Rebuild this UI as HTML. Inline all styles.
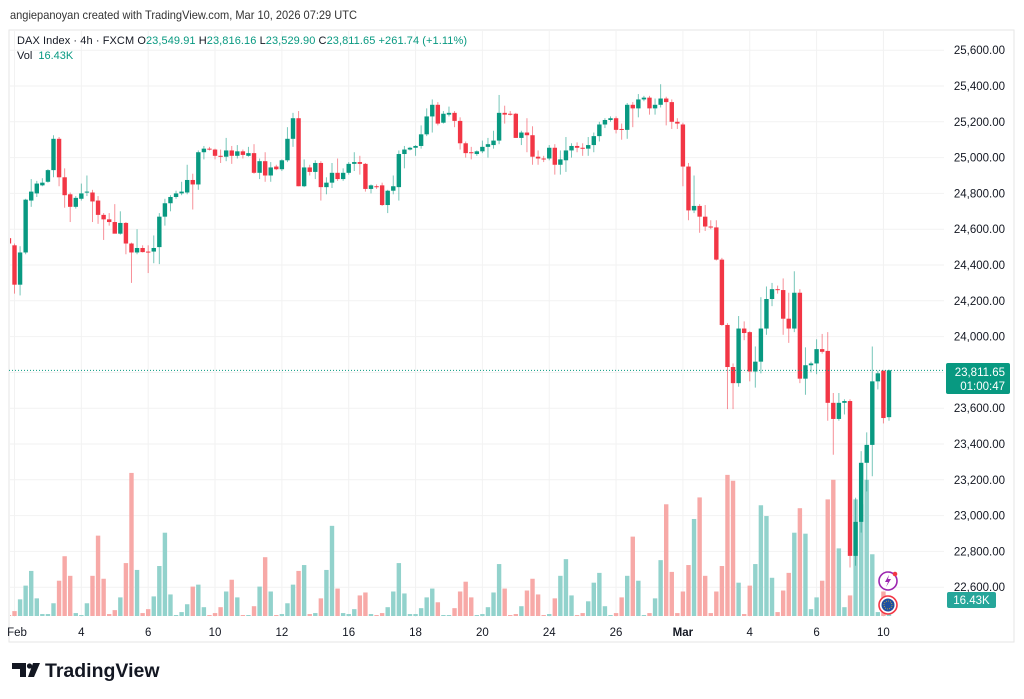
<!DOCTYPE html>
<html><head><meta charset="utf-8">
<style>
html,body{margin:0;padding:0;background:#fff;width:1024px;height:699px;overflow:hidden}
body{font-family:"Liberation Sans",sans-serif}
svg text{font-family:"Liberation Sans",sans-serif}
</style></head>
<body>
<svg id="chart" width="1024" height="699" viewBox="0 0 1024 699" xmlns="http://www.w3.org/2000/svg">
<defs><clipPath id="plotclip"><rect x="10" y="30" width="934" height="587"/></clipPath></defs>
<text x="10" y="19" font-size="12" fill="#333" textLength="347" lengthAdjust="spacingAndGlyphs">angiepanoyan created with TradingView.com, Mar 10, 2026 07:29 UTC</text>
<rect x="9" y="30" width="1005" height="612" fill="none" stroke="#e6e6e6"/>
<g id="grid"></g>
<g id="vols" clip-path="url(#plotclip)"></g>
<g id="candles" clip-path="url(#plotclip)"></g>
<g id="yaxis"></g>
<g id="xaxis"></g>
<g font-size="11">
<text x="17" y="44" fill="#131722" textLength="450" lengthAdjust="spacing">DAX Index · 4h · FXCM  <tspan fill="#131722">O</tspan><tspan fill="#089981">23,549.91</tspan>  <tspan fill="#131722">H</tspan><tspan fill="#089981">23,816.16</tspan>  <tspan fill="#131722">L</tspan><tspan fill="#089981">23,529.90</tspan>  <tspan fill="#131722">C</tspan><tspan fill="#089981">23,811.65</tspan>  <tspan fill="#089981">+261.74 (+1.11%)</tspan></text>
<text x="17" y="59" fill="#131722">Vol <tspan fill="#089981" dx="3">16.43K</tspan></text>
</g>
<line id="lastline" x1="9" x2="944" stroke="#089981" stroke-width="1" stroke-dasharray="1,2"/>
<g>
<rect id="lastbox" x="946" y="363" width="64" height="31" rx="2" fill="#089981"/>
<text id="lasttxt" x="1005" y="376" font-size="11.5" fill="#fff" text-anchor="end">23,811.65</text>
<text x="1005" y="390" font-size="11.5" fill="#fff" text-anchor="end">01:00:47</text>
</g>
<g>
<rect x="947" y="592" width="49" height="16" rx="2" fill="#26a69a"/>
<text x="971.5" y="604" font-size="11.5" fill="#fff" text-anchor="middle">16.43K</text>
</g>
<g>
<circle cx="888" cy="581" r="9" fill="#fff" stroke="#9c27b0" stroke-width="1.6"/>
<path d="M889 575 L885 582 L888 582 L886 587 L891 579 L888 579 Z" fill="#9c27b0"/>
<circle cx="895" cy="574" r="2.3" fill="#f23645"/>
</g>
<g>
<circle cx="888" cy="605" r="9" fill="#fff" stroke="#f23645" stroke-width="1.6"/>
<circle cx="888" cy="605" r="6.5" fill="#1f4fa0"/>
<circle cx="888" cy="605" r="4" fill="none" stroke="#f5c518" stroke-width="0.8" stroke-dasharray="0.8,1.3"/>
</g>
<g>
<path d="M12 663 H26 V677 H20 V669 H12 Z" fill="#131722"/>
<circle cx="29.5" cy="666" r="2.6" fill="#131722"/>
<path d="M33 663 H40 L34 677 H28 Z" fill="#131722"/>
<text x="45" y="677" font-size="19.5" font-weight="bold" fill="#131722">TradingView</text>
</g>
</svg>
<script>
const opens=[24550,24510,24290,24470,24760,24800,24845,24865,24930,25105,24890,24795,24725,24770,24805,24805,24760,24680,24655,24640,24575,24635,24520,24470,24495,24475,24475,24500,24670,24745,24780,24800,24805,24875,24850,25030,25050,25045,25010,25005,25040,25010,25035,25010,25025,24915,24980,24900,24950,24935,24985,25105,25220,24840,24945,24920,24970,24835,24860,24915,24880,24915,24965,24975,24965,24825,24840,24845,24735,24815,24835,25020,25045,25055,25065,25130,25230,25295,25195,25240,25250,25205,25080,25030,25020,25035,25060,25070,25095,25250,25245,25245,25110,25140,25125,25005,24995,24995,25055,24960,24985,25040,25065,25055,25050,25070,25120,25185,25210,25220,25160,25155,25295,25275,25325,25335,25275,25295,25330,25310,25200,25185,24950,24705,24730,24670,24615,24610,24430,24065,23830,23740,24045,24025,23805,23860,24045,24210,24265,24260,24100,24045,24245,23765,23840,23850,23930,23920,23630,23540,23630,23640,22775,22965,23295,23395,23750,23810,23549.91];
const highs=[24560,24520,24505,24770,24880,24870,24885,24935,25125,25115,24940,24805,24785,24855,24900,24820,24785,24690,24690,24740,24700,24640,24525,24600,24510,24510,24565,24690,24770,24790,24815,24865,24960,24910,25040,25065,25060,25050,25045,25110,25065,25070,25045,25060,25075,24995,25030,24975,24960,24990,25170,25250,25260,24990,24960,24985,24980,24890,24970,24995,24940,24975,25030,25010,24970,24850,24850,24860,24820,24900,25040,25065,25060,25070,25180,25275,25325,25310,25260,25285,25260,25225,25090,25060,25040,25095,25110,25150,25350,25290,25260,25250,25150,25220,25175,25040,25010,25070,25075,25040,25115,25080,25085,25080,25115,25140,25200,25220,25230,25230,25190,25305,25310,25355,25345,25345,25330,25410,25340,25325,25220,25195,24970,24900,24740,24735,24650,24650,24440,24075,23850,24115,24085,24030,23945,24220,24280,24300,24285,24325,24245,24365,24265,23940,23860,23985,24015,24025,23685,23685,23650,23650,23100,23360,23465,23945,23810,23810,23816.16];
const lows=[24500,24240,24230,24460,24725,24780,24840,24860,24890,24840,24720,24640,24715,24760,24785,24640,24630,24540,24620,24590,24570,24460,24300,24460,24470,24355,24410,24405,24620,24700,24770,24790,24795,24710,24820,24990,25040,24990,24970,24980,24965,24995,24995,25005,24910,24880,24865,24865,24930,24925,24975,25060,24840,24835,24900,24880,24760,24795,24830,24870,24870,24905,24925,24905,24810,24800,24825,24730,24690,24795,24760,24940,25040,25010,25050,25120,25140,25180,25190,25230,25170,25045,25000,24990,25010,25025,25000,25050,25075,25190,25235,25110,25070,25030,24960,24960,24975,24985,24905,24905,24920,25000,25030,25010,25010,25030,25090,25165,25200,25135,25100,25105,25170,25225,25315,25240,25240,25280,25180,25160,25160,24840,24650,24690,24580,24590,24600,24425,24060,23595,23595,23720,23980,23750,23715,23795,24010,24170,24240,24010,23965,24025,23740,23675,23800,23790,23905,23530,23340,23530,23565,22710,22720,22905,23135,23220,23705,23515,23529.9];
const closes=[24520,24290,24470,24765,24810,24855,24860,24930,25105,24890,24790,24725,24775,24800,24810,24755,24680,24655,24640,24575,24635,24520,24470,24495,24472,24470,24495,24670,24745,24780,24800,24810,24875,24850,25030,25050,25045,25010,25008,25040,25010,25035,25015,25025,24915,24980,24900,24945,24935,24985,25105,25220,24840,24945,24920,24970,24835,24860,24915,24880,24915,24965,24975,24965,24825,24845,24835,24735,24815,24840,25020,25045,25055,25065,25130,25230,25295,25190,25245,25250,25205,25080,25025,25025,25035,25060,25075,25095,25250,25240,25240,25110,25140,25125,25005,24995,24990,25055,24960,24990,25040,25065,25055,25050,25070,25120,25185,25210,25220,25155,25155,25295,25275,25325,25335,25275,25295,25330,25310,25200,25190,24950,24705,24730,24670,24615,24610,24430,24065,23830,23740,24045,24020,23805,23860,24045,24210,24265,24260,24100,24045,24245,23765,23840,23850,23930,23915,23630,23540,23630,23640,22775,22965,23295,23395,23750,23795,23545,23811.65];
const volumes=[1,5,17,31,46,18,2,2,13,36,61,41,3,1,13,41,82,38,2,6,19,54,146,47,3,7,20,51,85,22,1,4,12,30,32,9,1,3,9,25,37,19,1,1,10,30,60,25,1,2,13,32,46,52,2,3,18,47,92,28,3,2,7,21,24,2,1,3,9,25,54,23,2,2,8,19,28,14,1,1,8,25,35,19,1,2,9,24,53,28,1,2,10,26,38,22,1,2,18,41,58,21,1,3,15,34,44,10,1,3,19,41,81,36,1,3,18,57,114,45,3,25,52,99,121,41,3,25,51,144,138,34,2,31,53,113,102,39,4,26,44,85,110,84,7,19,36,119,139,69,9,21,119,114,139,63,4,25,16.43];
const priceTicks=[25600,25400,25200,25000,24800,24600,24400,24200,24000,23800,23600,23400,23200,23000,22800,22600];
const timeLabels=["Feb","4","6","10","12","16","18","20","24","26","Mar","4","6","10"];
const timeLabelBars=[1,13,25,37,49,61,73,85,97,109,121,133,145,157];

const NS="http://www.w3.org/2000/svg";
const N=opens.length;
const step=5.57;
function xOf(i){return 889-(N-1-i)*step;}
function yOf(p){return 265+(24400-p)*0.179;}
function vY(v){return 616-v*0.98;}
function mk(tag,attrs,parent){const e=document.createElementNS(NS,tag);for(const k in attrs)e.setAttribute(k,attrs[k]);parent.appendChild(e);return e;}

const grid=document.getElementById('grid');
const yaxis=document.getElementById('yaxis');
priceTicks.forEach(p=>{
  const y=yOf(p);
  const l=mk('line',{x1:9,x2:944,y1:y,y2:y,stroke:'#f2f2f2'},grid);
  
  
  const t=mk('text',{x:1005,y:y+4,'font-size':11.5,fill:'#131722','text-anchor':'end'},yaxis);
  
  
  t.textContent=p.toLocaleString('en-US')+'.00';
});
const xaxis=document.getElementById('xaxis');
timeLabels.forEach((lab,k)=>{
  const x=xOf(timeLabelBars[k]);
  const l=mk('line',{x1:x,x2:x,y1:30,y2:617,stroke:'#f2f2f2'},grid);
  
  
  const t=mk('text',{x:Math.max(x,17),y:636,'font-size':11.5,fill:'#131722','text-anchor':'middle','font-weight':lab==='Mar'?'bold':'normal'},xaxis);
  
  
  t.textContent=lab;
});
const vg=document.getElementById('vols');
const cg=document.getElementById('candles');
for(let i=0;i<N;i++){
  const up=closes[i]>=opens[i];
  const x=xOf(i);
  const vb=mk('rect',{x:x-2.2,y:vY(volumes[i]),width:4.4,height:616-vY(volumes[i]),fill:up?'#92d2cc':'#f7a9a7'},vg);
  
  
  const col=up?'#089981':'#f23645';
  const w=mk('line',{x1:x,x2:x,y1:yOf(highs[i]),y2:yOf(lows[i]),stroke:col,'stroke-width':1,opacity:0.55},cg);
  
  
  const top=yOf(Math.max(opens[i],closes[i])),bot=yOf(Math.min(opens[i],closes[i]));
  const b=mk('rect',{x:x-2.2,y:top,width:4.4,height:Math.max(1,bot-top),fill:col},cg);
  
  
}
const ly=yOf(closes[N-1]);
const ll=document.getElementById('lastline');
ll.setAttribute('y1',ly);ll.setAttribute('y2',ly);
</script>
</body></html>
